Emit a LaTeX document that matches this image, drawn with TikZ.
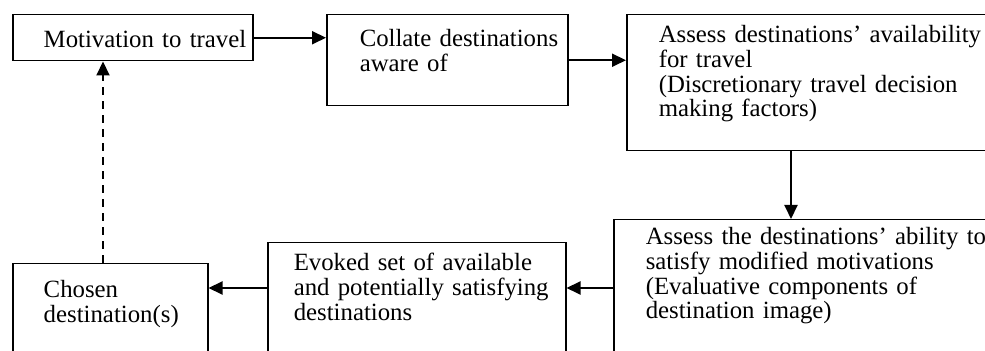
\documentclass[tikz,border=0pt]{standalone}
\usepackage{fontspec}
\setmainfont{Liberation Serif}
\usepackage{xcolor}
\usepackage{tikz}
\usetikzlibrary{arrows.meta}
\definecolor{Ink}{HTML}{000000}
\tikzset{
  every picture/.style={line width=1pt},
  stagebox/.style={
    draw=Ink,
    line width=0.75pt,
    anchor=north west,
    align=left,
    font=\fontsize{12.4}{12.35}\selectfont,
    inner xsep=0pt,
    text height=10pt
  },
  textindent/.style={execute at begin node={\leftskip=#1\relax\hyphenpenalty=10000\relax}},
  flowarrow/.style={-{Triangle[length=7pt,width=6.5pt]}, draw=Ink},
  backarrow/.style={flowarrow, dash pattern=on 4pt off 3pt}
}

\begin{document}
\begin{tikzpicture}[x=0.5pt,y=-0.5pt]
  \useasboundingbox (0,0) rectangle (985,351);
  \clip (0,0) rectangle (985,351);

  % top row
  \node[stagebox,text width=120pt,inner ysep=6.5pt,text depth=0pt,textindent=15.5pt] (motiv) at (12,14)
    {Motivation to travel};
  \node[stagebox,text width=120.5pt,inner ysep=6pt,text depth=23.5pt,textindent=16.5pt] (collate) at (326,14)
    {Collate destinations\\aware of};
  \node[stagebox,text width=200pt,inner ysep=4pt,text depth=50pt,textindent=16pt] (assess) at (626,14)
    {Assess destinations’ availability\\for travel\\(Discretionary travel decision\\making factors)};

  % bottom row
  \node[stagebox,text width=195pt,inner ysep=2.5pt,text depth=60pt,textindent=16pt] (ability) at (613,219)
    {Assess the destinations’ ability to\\satisfy modified motivations\\(Evaluative components of\\destination image)};
  \node[stagebox,text width=149pt,inner ysep=4pt,text depth=47pt,textindent=13pt] (evoked) at (267,242)
    {Evoked set of available\\and potentially satisfying\\destinations};
  \node[stagebox,text width=97.5pt,inner ysep=7pt,text depth=31pt,textindent=15.5pt] (chosen) at (12,263)
    {Chosen\\destination(s)};

  \coordinate (drop) at (791,0);
  \coordinate (row) at (0,288);
  \coordinate (back) at (103,0);

  \draw[flowarrow] (motiv.east) -- (motiv.east -| collate.west);
  \draw[flowarrow] (collate.east) -- (collate.east -| assess.west);
  \draw[flowarrow] (assess.south -| drop) -- (ability.north -| drop);
  \draw[flowarrow] (ability.west |- row) -- (evoked.east |- row);
  \draw[flowarrow] (evoked.west |- row) -- (chosen.east |- row);
  \draw[backarrow] (chosen.north -| back) -- (motiv.south -| back);
\end{tikzpicture}
\end{document}
